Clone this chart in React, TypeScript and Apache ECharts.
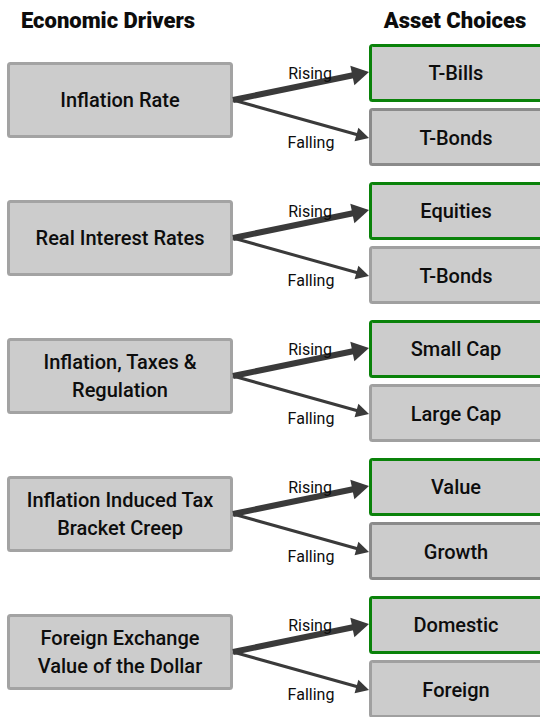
import React, { useEffect, useRef } from "react";
import * as echarts from "echarts";

const headers = ["Economic Drivers", "Asset Choices"];
const drivers = [
  "Inflation Rate",
  "Real Interest Rates",
  "Inflation, Taxes &\nRegulation",
  "Inflation Induced Tax\nBracket Creep",
  "Foreign Exchange\nValue of the Dollar",
];
const risingChoices = ["T-Bills", "Equities", "Small Cap", "Value", "Domestic"];
const fallingChoices = ["T-Bonds", "T-Bonds", "Large Cap", "Growth", "Foreign"];
const directionLabels = ["Rising", "Falling"];

const FONT = "Roboto, 'Noto Sans', sans-serif";
const STEP = 138;

function arrow(x1: number, y1: number, x2: number, y2: number, w: number, hl: number, hw: number, color: string) {
  const dx = x2 - x1;
  const dy = y2 - y1;
  const len = Math.sqrt(dx * dx + dy * dy);
  const ux = dx / len;
  const uy = dy / len;
  const bx = x2 - ux * hl;
  const by = y2 - uy * hl;
  const px = -uy;
  const py = ux;
  return [
    {
      type: "line",
      shape: { x1, y1, x2: bx + ux * 2, y2: by + uy * 2 },
      style: { stroke: color, lineWidth: w, lineCap: "butt" },
    },
    {
      type: "polygon",
      shape: {
        points: [
          [x2, y2],
          [bx + px * hw, by + py * hw],
          [bx - px * hw, by - py * hw],
        ],
      },
      style: { fill: color },
    },
  ];
}

function txt(x: number, y: number, text: string, size: number, weight: any, lh: number) {
  return {
    type: "text",
    x,
    y,
    style: {
      text,
      fill: "#0d0d0d",
      fontFamily: FONT,
      fontSize: size,
      fontWeight: weight,
      lineHeight: lh,
      align: "center",
      verticalAlign: "middle",
      textAlign: "center",
      textVerticalAlign: "middle",
    },
  };
}

export default function App() {
  const ref = useRef<HTMLDivElement>(null);
  useEffect(() => {
    document.body.style.margin = "0";
    if (!ref.current) return;
    const chart = echarts.init(ref.current, null, { renderer: "svg" });
    const elements: any[] = [];
    elements.push(txt(108, 20, headers[0], 22, 900, 24));
    elements.push(txt(455, 20, headers[1], 22, 900, 24));

    drivers.forEach((d, i) => {
      const off = i * STEP;
      // left box
      elements.push({
        type: "rect",
        shape: { x: 8.5, y: 63.5 + off, width: 223, height: 73, r: 2 },
        style: { fill: "#cccccc", stroke: "#a3a3a3", lineWidth: 3 },
      });
      // right boxes
      elements.push({
        type: "rect",
        shape: { x: 370.5, y: 45.5 + off, width: 180, height: 55, r: 2 },
        style: { fill: "#cccccc", stroke: "#0a820a", lineWidth: 3 },
      });
      elements.push({
        type: "rect",
        shape: { x: 370.5, y: 109.5 + off, width: 180, height: 55, r: 2 },
        style: { fill: "#cccccc", stroke: i === 0 || i === 3 ? "#8a8a8a" : "#a0a0a0", lineWidth: 3 },
      });
      // arrows
      const ox = 233;
      const oy = 100 + off;
      elements.push(...arrow(ox, oy, 369, 72 + off, 6, 17, 10, "#3a3a3a"));
      elements.push(...arrow(ox, oy, 369, 138 + off, 3, 13, 7, "#3a3a3a"));
      // labels
      elements.push(txt(310, 73 + off, directionLabels[0], 16, "normal", 18));
      elements.push(txt(311, 142 + off, directionLabels[1], 16, "normal", 18));
      elements.push(txt(120, 100 + off, d, 20, 500, 28));
      elements.push(txt(456, 73 + off, risingChoices[i], 20, 500, 24));
      elements.push(txt(456, 138 + off, fallingChoices[i], 20, 500, 24));
    });

    chart.setOption({
      animation: false,
      backgroundColor: "#ffffff",
      graphic: { elements },
    });
    return () => chart.dispose();
  }, []);
  return <div ref={ref} style={{ width: 540, height: 717 }} />;
}
